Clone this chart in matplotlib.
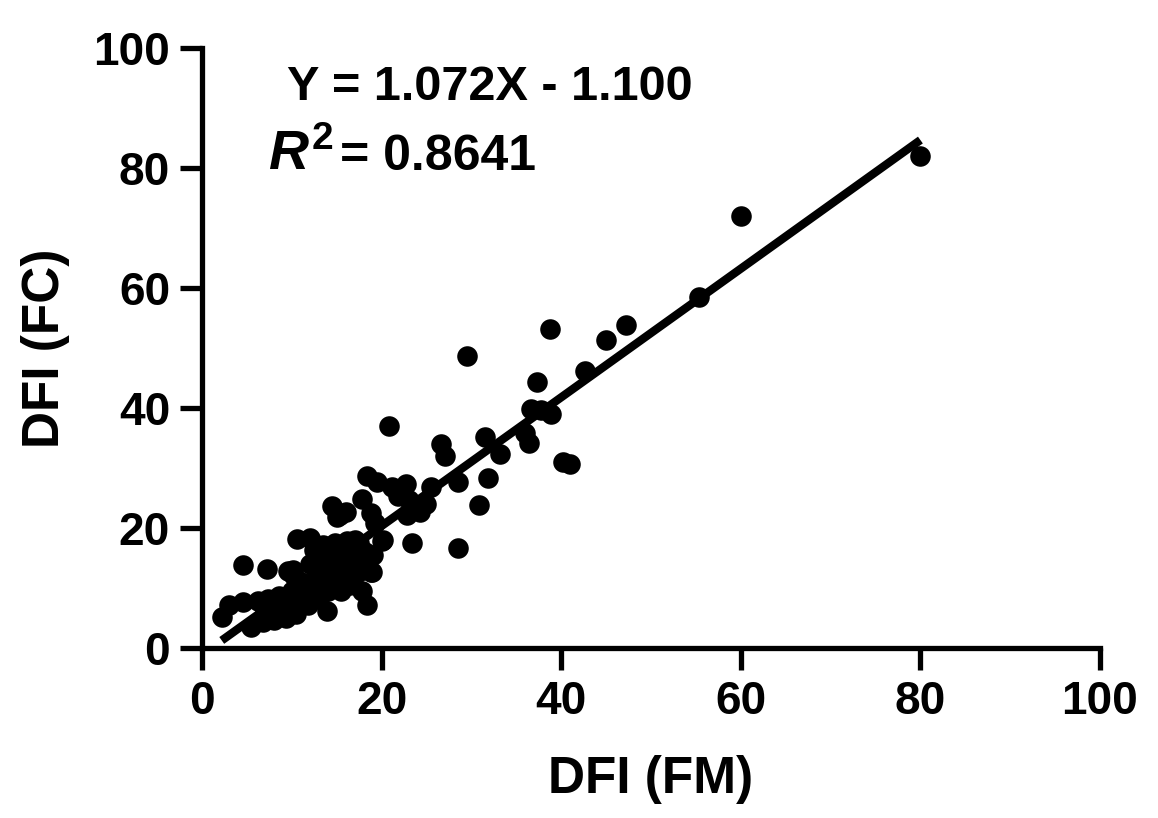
import matplotlib
matplotlib.use("Agg")
import matplotlib.pyplot as plt
from matplotlib import font_manager
import numpy as np

# ---- data ----
dfi_fm = [80.0, 60.0, 55.3, 47.2, 45.0, 38.8, 42.6, 37.3, 29.5, 36.6, 37.8, 38.9,
          36.4, 36.0, 40.2, 41.0, 31.5, 33.2, 31.8, 30.8, 28.5, 28.5, 26.6, 27.1,
          25.5, 24.9, 24.3, 20.8, 23.4, 20.0, 22.8, 21.8, 23.0, 22.7, 21.2, 19.5,
          18.4, 17.8, 18.8, 14.5, 15.0, 16.0, 19.3, 12.0, 10.6, 18.8, 18.4, 4.6,
          7.2, 9.6, 10.2, 2.2, 3.0, 4.6, 6.2, 7.3, 8.6, 5.5, 6.8, 8.0,
          9.4, 10.5, 13.9, 9.8, 11.0, 12.0, 13.0, 14.0, 15.5, 16.5, 17.8, 12.5,
          14.0, 15.0, 16.0, 13.0, 14.3, 15.5, 16.8, 17.5, 18.2, 17.0, 16.2, 14.8,
          13.5, 12.5, 12.0, 11.0, 10.0, 8.0, 7.0, 11.8, 15.2, 17.3, 18.0, 16.5,
          19.0, 13.8, 20.2, 15.4, 17.9, 10.1, 13.5, 18.9]
dfi_fc = [82.0, 72.0, 58.5, 53.8, 51.3, 53.2, 46.2, 44.4, 48.6, 39.8, 39.6, 39.0,
          34.2, 35.8, 31.0, 30.6, 35.2, 32.4, 28.3, 23.9, 27.6, 16.7, 34.0, 32.0,
          26.8, 24.0, 22.6, 37.0, 17.5, 17.8, 22.2, 25.3, 24.6, 27.3, 26.8, 27.7,
          28.7, 24.8, 22.5, 23.6, 21.8, 22.6, 20.8, 18.3, 18.2, 12.7, 7.2, 13.8,
          13.2, 12.8, 12.0, 5.2, 7.2, 7.6, 7.9, 8.1, 8.7, 3.5, 4.4, 4.6,
          5.0, 5.7, 6.2, 7.5, 8.0, 9.0, 8.2, 9.5, 9.5, 10.5, 9.5, 11.0,
          11.5, 12.5, 13.0, 13.5, 15.0, 16.2, 15.5, 17.5, 16.0, 18.0, 17.8, 17.5,
          17.0, 16.3, 14.0, 11.0, 9.5, 6.5, 6.0, 7.2, 14.0, 12.5, 14.2, 11.5,
          15.5, 12.3, 18.0, 22.2, 15.2, 13.0, 17.2, 12.7]
slope = 1.072
intercept = -1.100
r_squared = "0.8641"
x_ticks = [0, 20, 40, 60, 80, 100]
y_ticks = [0, 20, 40, 60, 80, 100]
x_label = "DFI (FM)"
y_label = "DFI (FC)"

avail = {f.name for f in font_manager.fontManager.ttflist}
main_font = "Liberation Sans" if "Liberation Sans" in avail else "DejaVu Sans"
narrow_font = "Liberation Sans Narrow" if "Liberation Sans Narrow" in avail else main_font

plt.rcParams['font.family'] = [main_font, 'DejaVu Sans']
plt.rcParams['mathtext.fontset'] = 'custom'
plt.rcParams['mathtext.rm'] = f'{main_font}:bold'
plt.rcParams['mathtext.it'] = f'{main_font}:italic:bold'
plt.rcParams['mathtext.bf'] = f'{main_font}:bold'

fig = plt.figure(figsize=(11.58, 8.18), dpi=100)
ax = fig.add_axes([202/1158, 1-648/818, (1100-202)/1158, 600/818])

ax.plot(dfi_fm, dfi_fc, 'o', color='black', markersize=14.8, zorder=3,
        markeredgewidth=0, clip_on=False)
xs = np.array([min(dfi_fm), max(dfi_fm)])
ax.plot(xs, slope*xs + intercept, color='black', lw=6, solid_capstyle='butt', zorder=4)

ax.set_xlim(0, 100)
ax.set_ylim(0, 100)
ax.set_xticks(x_ticks)
ax.set_yticks(y_ticks)
ax.set_xticklabels([str(t) for t in x_ticks])
ax.set_yticklabels([str(t) for t in y_ticks])
for s in ['top', 'right']:
    ax.spines[s].set_visible(False)
for s in ['left', 'bottom']:
    ax.spines[s].set_linewidth(3.8)
ax.tick_params(direction='out', length=16, width=3.8, labelsize=33, pad=7)
for lab in ax.get_xticklabels() + ax.get_yticklabels():
    lab.set_fontweight('bold')

ax.set_xlabel(x_label, fontsize=37, fontweight='bold')
ax.set_ylabel(y_label, fontsize=37, fontweight='bold')
ax.xaxis.set_label_coords(0.5, (648-780)/600)
ax.yaxis.set_label_coords((45-202)/898, 0.5)
ax.xaxis.label.set_va('center')
ax.yaxis.label.set_va('center')

ax.text(9.5, 91.3, f"Y = {slope:.3f}X - {abs(intercept):.3f}", fontsize=35,
        fontweight='bold', ha='left', va='baseline')
ax.text(7.3, 79.7, r"$\mathit{R}^{2}$", fontsize=40, ha='left', va='baseline')
ax.text(15.4, 79.7, f"= {r_squared}", fontsize=36, fontweight='bold',
        family=[narrow_font, 'DejaVu Sans'], ha='left', va='baseline')

fig.savefig("out.png", dpi=100)
